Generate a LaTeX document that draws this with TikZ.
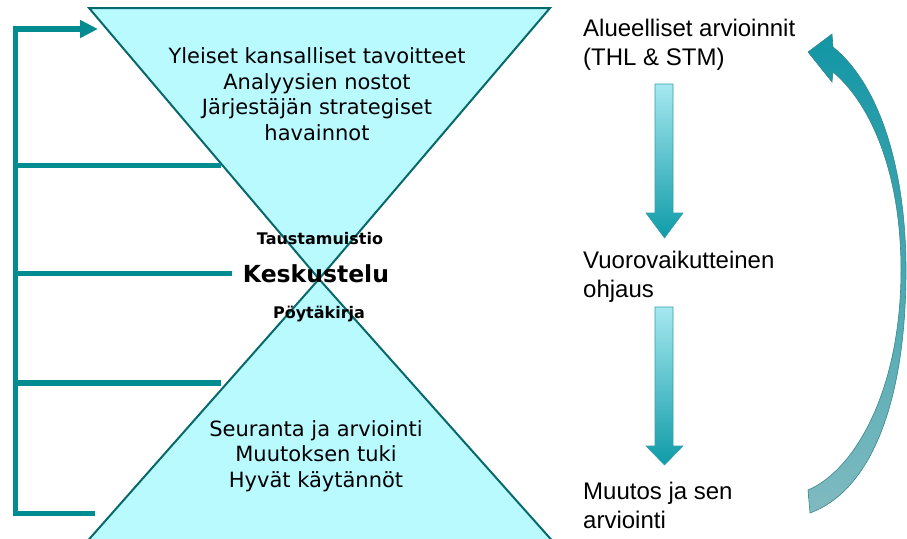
\documentclass[tikz,border=0pt]{standalone}
\usepackage{fontspec}
\setmainfont{DejaVu Sans}
\newfontfamily\arialf{Liberation Sans}
\usetikzlibrary{arrows.meta}
\definecolor{glassfill}{RGB}{185,250,255}
\definecolor{glassedge}{RGB}{8,105,108}
\definecolor{bracket}{RGB}{0,140,145}
\definecolor{arrtop}{RGB}{165,232,240}
\definecolor{arrbot}{RGB}{15,155,168}
\definecolor{arredge}{RGB}{50,160,170}
\definecolor{curvtop}{RGB}{18,150,165}
\definecolor{curvbot}{RGB}{128,186,192}
\tikzset{
  glass/.style={fill=glassfill, draw=glassedge, line width=2pt, line join=miter},
  brk/.style={draw=bracket, line width=5.5pt},
  downarr/.style={top color=arrtop, bottom color=arrbot, draw=arredge, line width=0.6pt},
  curvarr/.style={top color=curvtop, bottom color=curvbot, draw=glassedge!80, line width=0.6pt},
  bodytext/.style={inner sep=0pt, align=center, font=\fontsize{21}{25.5}\selectfont},
  midsmall/.style={inner sep=0pt, font=\bfseries\fontsize{16}{19}\selectfont},
  midbig/.style={inner sep=0pt, font=\bfseries\fontsize{23.5}{28}\selectfont},
  sidetext/.style={inner sep=0pt, align=left, font=\arialf\fontsize{24}{29}\selectfont}
}
\begin{document}
\begin{tikzpicture}[x=1pt,y=-1pt]
\useasboundingbox (0,0) rectangle (907,538);
\clip (0,0) rectangle (907,538);
% hourglass
\path[glass] (89,8) -- (550,8) -- (319,279) -- cycle;
\path[glass] (319,279) -- (556,545) -- (84,545) -- cycle;
% texts in the hourglass (anchor = baseline of the last line)
\node[bodytext, anchor=base] (top) at (317,140) {Yleiset kansalliset tavoitteet\\Analyysien nostot\\Järjestäjän strategiset\\havainnot};
\node[bodytext, anchor=base] (bottom) at (316,487) {Seuranta ja arviointi\\Muutoksen tuki\\Hyvät käytännöt};
\node[midsmall, anchor=base] (tausta) at (320,244) {Taustamuistio};
\node[midbig, anchor=base] (kesk) at (316,282) {Keskustelu};
\node[midsmall, anchor=base] (poyta) at (319,318) {Pöytäkirja};
% left bracket
\coordinate (b0) at (15.5,29);
\coordinate (b1) at (15.5,165.5);
\coordinate (b2) at (15.5,273.5);
\coordinate (b3) at (15.5,383);
\coordinate (b4) at (15.5,513.7);
\coordinate (e0) at (98,29);
\coordinate (e1) at (221,165.5);
\coordinate (e2) at (232,273.5);
\coordinate (e3) at (221,383);
\coordinate (e4) at (95,513.7);
\draw[brk, line join=miter, -{Triangle[length=18pt,width=17pt]}] (e4) -- (b4) -- (b0) -- (e0);
\draw[brk] (b1) -- (e1);
\draw[brk] (b2) -- (e2);
\draw[brk] (b3) -- (e3);
% right texts (anchor = baseline of the last line)
\node[sidetext, anchor=base west] (alue) at (583,65) {Alueelliset arvioinnit\\(THL \& STM)};
\node[sidetext, anchor=base west] (vuoro) at (583,297) {Vuorovaikutteinen\\ohjaus};
\node[sidetext, anchor=base west] (muutos) at (583,528) {Muutos ja sen\\arviointi};
% down arrows
\path[downarr] (655,84) -- (673,84) -- (673,213) -- (683,213) -- (664.5,238) -- (646,213) -- (655,213) -- cycle;
\path[downarr] (655,307) -- (673,307) -- (673,446) -- (683,446) -- (664.5,465) -- (646,446) -- (655,446) -- cycle;
% curved return arrow
\path[curvarr] (833,47) .. controls (880,85) and (906,170) .. (906,270)
  .. controls (906,400) and (872,490) .. (810,513)
  -- (808,490)
  .. controls (855,470) and (901,390) .. (901,270)
  .. controls (901,175) and (872,105) .. (833,72)
  -- (832,82) -- (808,52) -- (832,34) -- cycle;
\end{tikzpicture}
\end{document}
